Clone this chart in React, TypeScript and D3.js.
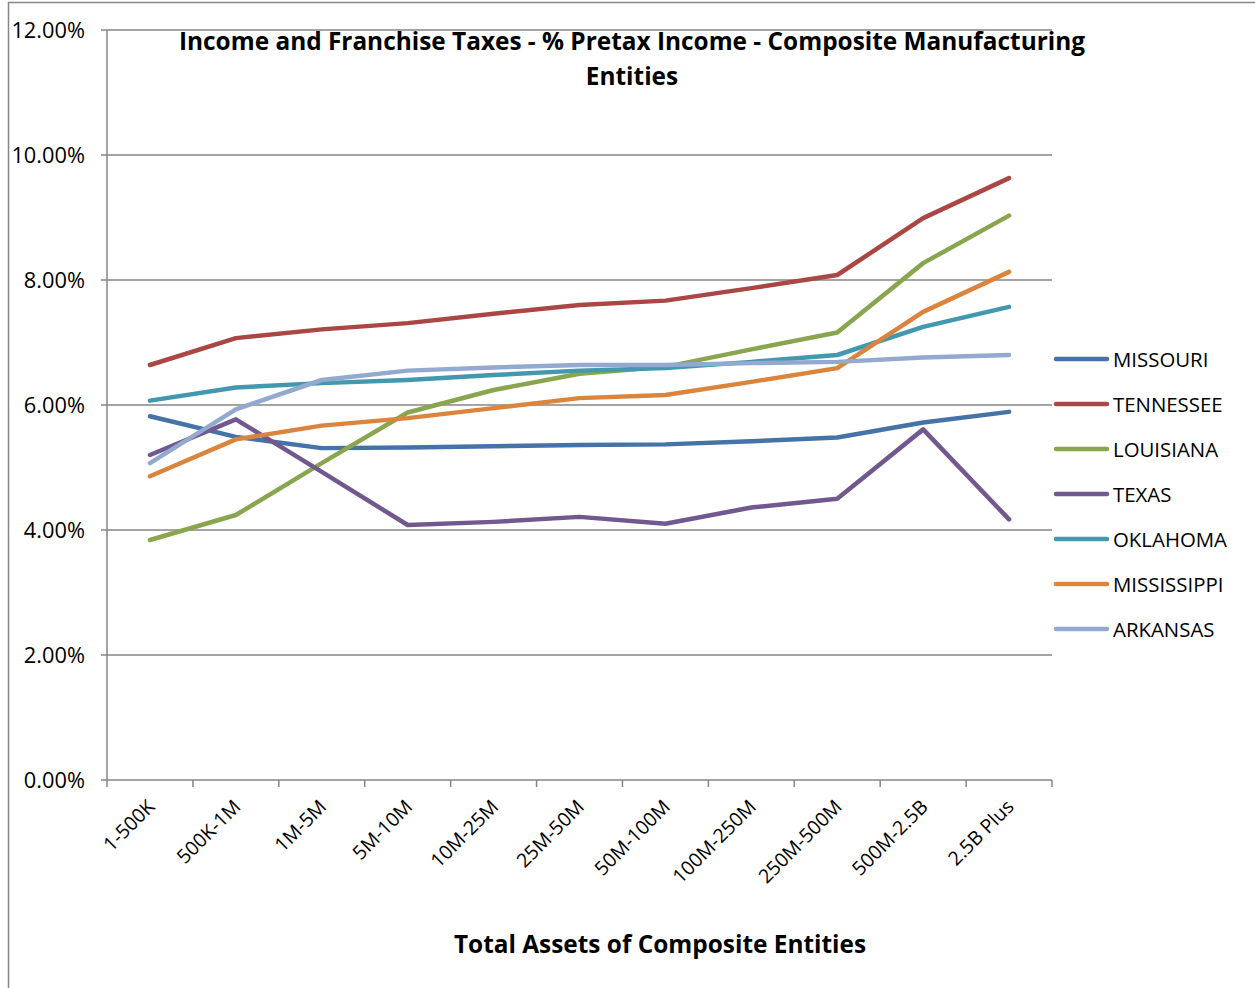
import React from "react";
import * as d3 from "d3";

const categories = ["1-500K", "500K-1M", "1M-5M", "5M-10M", "10M-25M", "25M-50M", "50M-100M", "100M-250M", "250M-500M", "500M-2.5B", "2.5B Plus"];

const missouri = [5.82, 5.49, 5.31, 5.32, 5.34, 5.36, 5.37, 5.42, 5.48, 5.72, 5.89];
const tennessee = [6.64, 7.07, 7.21, 7.31, 7.46, 7.60, 7.67, 7.87, 8.08, 8.99, 9.63];
const louisiana = [3.84, 4.24, 5.07, 5.88, 6.24, 6.50, 6.61, 6.89, 7.16, 8.27, 9.03];
const texas = [5.20, 5.77, 4.93, 4.08, 4.13, 4.21, 4.10, 4.36, 4.50, 5.61, 4.17];
const oklahoma = [6.07, 6.28, 6.35, 6.40, 6.48, 6.55, 6.59, 6.69, 6.80, 7.25, 7.57];
const mississippi = [4.86, 5.45, 5.67, 5.79, 5.95, 6.11, 6.16, 6.37, 6.59, 7.49, 8.13];
const arkansas = [5.07, 5.93, 6.40, 6.55, 6.60, 6.64, 6.64, 6.67, 6.69, 6.76, 6.80];

const seriesNames = ["MISSOURI", "TENNESSEE", "LOUISIANA", "TEXAS", "OKLAHOMA", "MISSISSIPPI", "ARKANSAS"];
const seriesValues = [missouri, tennessee, louisiana, texas, oklahoma, mississippi, arkansas];
const seriesColors = ["#4572A7", "#AA4643", "#89A54E", "#71588F", "#4198AF", "#DB843D", "#93A9CF"];

const yTicks = [0, 2, 4, 6, 8, 10, 12];

const W = 1255;
const H = 988;
const plot = { left: 107, right: 1052, top: 30, bottom: 780 };
const font = "'Open Sans', sans-serif";

export default function App() {
  const x = d3.scaleBand<string>().domain(categories).range([plot.left, plot.right]);
  const y = d3.scaleLinear().domain([0, 12]).range([plot.bottom, plot.top]);
  const line = d3
    .line<number>()
    .x((_, i) => (x(categories[i]) as number) + x.bandwidth() / 2)
    .y((d) => y(d));
  const grid = "#868686";
  const bandEdges = categories.map((c) => x(c) as number).concat([plot.right]);

  return (
    <svg
      width={W}
      height={H}
      style={{ position: "absolute", left: 0, top: 0, background: "#fff" }}
      fontFamily={font}
    >
      <rect x={8.5} y={2.5} width={W + 10} height={H + 10} fill="#fff" stroke={grid} strokeWidth={1.5} />
      {yTicks.map((t) => (
        <g key={t}>
          <line x1={plot.left - 6} x2={plot.right} y1={y(t)} y2={y(t)} stroke={grid} strokeWidth={1.5} />
          <text x={85} y={y(t) + 7.5} textAnchor="end" fontSize={21.8} fill="#000">
            {t.toFixed(2) + "%"}
          </text>
        </g>
      ))}
      <line x1={plot.left} x2={plot.left} y1={plot.top} y2={plot.bottom} stroke={grid} strokeWidth={1.5} />
      {bandEdges.map((e, i) => (
        <line key={i} x1={e} x2={e} y1={plot.bottom} y2={plot.bottom + 7} stroke={grid} strokeWidth={1.5} />
      ))}
      {categories.map((c) => {
        const cx = (x(c) as number) + x.bandwidth() / 2 + 6;
        const cy = plot.bottom + 28;
        return (
          <text
            key={c}
            x={cx}
            y={cy}
            textAnchor="end"
            fontSize={19.5}
            transform={`rotate(-45 ${cx} ${cy})`}
            fill="#000"
          >
            {c}
          </text>
        );
      })}
      {seriesValues.map((vals, i) => (
        <path
          key={seriesNames[i]}
          d={line(vals) as string}
          fill="none"
          stroke={seriesColors[i]}
          strokeWidth={4.5}
          strokeLinejoin="round"
          strokeLinecap="round"
        />
      ))}
      {seriesNames.map((n, i) => {
        const ly = 359 + i * 45;
        return (
          <g key={n}>
            <line x1={1056} x2={1107} y1={ly} y2={ly} stroke={seriesColors[i]} strokeWidth={4.5} strokeLinecap="round" />
            <text x={1113} y={ly + 7.5} fontSize={20.4} fill="#000">
              {n}
            </text>
          </g>
        );
      })}
      <text x={632} y={50} textAnchor="middle" fontSize={24.4} fontWeight="bold" fill="#000">
        Income and Franchise Taxes - % Pretax Income - Composite Manufacturing
      </text>
      <text x={632} y={85} textAnchor="middle" fontSize={24.4} fontWeight="bold" fill="#000">
        Entities
      </text>
      <text x={660} y={953} textAnchor="middle" fontSize={24.4} fontWeight="bold" fill="#000">
        Total Assets of Composite Entities
      </text>
    </svg>
  );
}
